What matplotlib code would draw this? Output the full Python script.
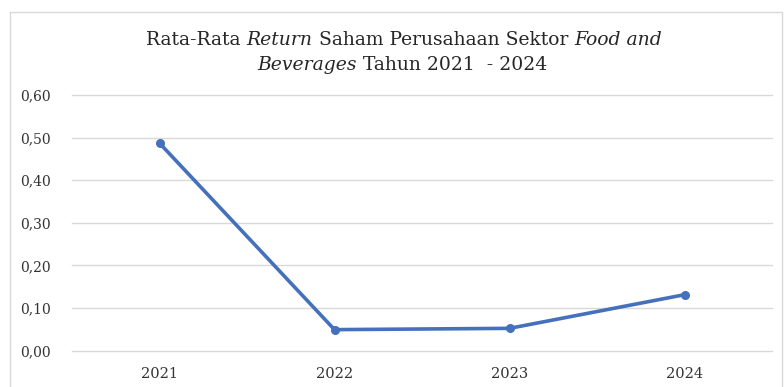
import matplotlib
matplotlib.use("Agg")
import matplotlib.pyplot as plt
from matplotlib.ticker import FuncFormatter

years = ["2021", "2022", "2023", "2024"]
returns = [0.487, 0.049, 0.052, 0.131]
yticks = [0.0, 0.1, 0.2, 0.3, 0.4, 0.5, 0.6]

title_line1 = [("Rata-Rata ", "normal"), ("Return", "italic"), (" Saham Perusahaan Sektor ", "normal"), ("Food and", "italic")]
title_line2 = [("Beverages", "italic"), (" Tahun 2021  - 2024", "normal")]

plt.rcParams['font.family'] = ['DejaVu Serif']

fig = plt.figure(figsize=(7.84, 3.87), dpi=100)
fig.patch.set_facecolor('white')

# outer chart border
border = plt.Rectangle((10/784, -0.01), (782-10)/784, 1 - 12/387 + 0.01, transform=fig.transFigure,
                       fill=False, edgecolor='#d9d9d9', linewidth=1.0)
fig.add_artist(border)

ax = fig.add_axes([72/784, 1 - 350.5/387, 700/784, (350.5 - 95)/387])
x = list(range(len(years)))
ax.plot(x, returns, color='#4570bb', linewidth=2.6, marker='o', markersize=5.5,
        markerfacecolor='#4570bb', markeredgecolor='#4570bb', solid_joinstyle='round', zorder=3)
ax.set_xlim(-0.5, len(years) - 0.5)
ax.set_ylim(0, 0.6)
ax.set_yticks(yticks)
ax.yaxis.set_major_formatter(FuncFormatter(lambda v, p: f"{v:.2f}".replace('.', ',')))
ax.set_xticks(x)
ax.set_xticklabels(years)
ax.grid(axis='y', color='#d9d9d9', linewidth=1.0)
ax.set_axisbelow(True)
for gl in ax.get_ygridlines():
    gl.set_clip_on(False)
for s in ax.spines.values():
    s.set_visible(False)
ax.tick_params(axis='both', length=0, labelcolor='#333333')
ax.tick_params(axis='y', pad=15, labelsize=10)
ax.tick_params(axis='x', pad=12, labelsize=10.5)

fs = 13.5
renderer = fig.canvas.get_renderer()

def draw_line(pieces, cx, cy):
    texts = []
    for s, style in pieces:
        t = fig.text(0, cy, s, fontsize=fs, style=style, color='#262626', va='center', ha='left')
        texts.append(t)
    widths = [t.get_window_extent(renderer).width for t in texts]
    total = sum(widths)
    start = cx - total / 2
    for t, w in zip(texts, widths):
        t.set_x(start / 784)
        start += w

draw_line(title_line1, 404, 1 - 40/387)
draw_line(title_line2, 402, 1 - 65/387)

fig.savefig("out.png", dpi=100, facecolor='white')
